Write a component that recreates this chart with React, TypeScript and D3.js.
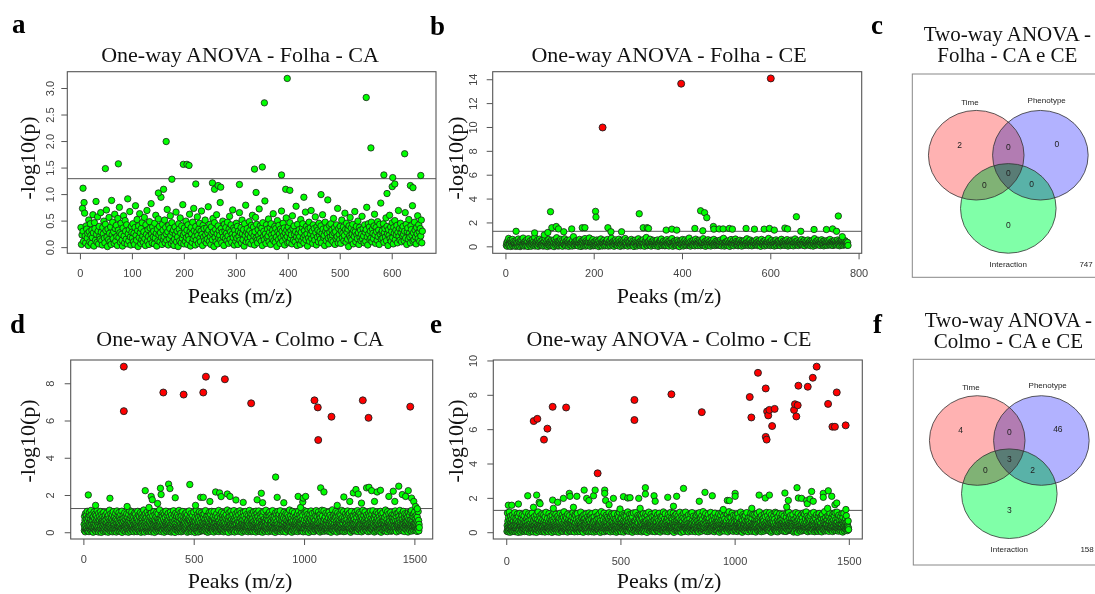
import React from 'react';
import * as d3 from 'd3';

const SERIF = '"Liberation Serif", "Times New Roman", serif';
const SANS = '"Liberation Sans", Arial, Helvetica, sans-serif';

// ---------- Panel a: One-way ANOVA - Folha - CA (values in hundredths of -log10(p), peak index = position) ----------
const folhaCABaseCenti = [
38,6,24,74,31,12,85,65,22,9,41,35,18,27,4,52,30,11,45,23,
8,33,19,62,28,3,47,36,14,87,25,10,58,31,7,40,21,16,66,29,
13,5,38,26,50,18,9,44,32,71,20,2,35,15,57,27,11,39,6,89,
24,48,17,30,8,63,36,12,42,21,4,55,33,19,76,28,10,46,25,14,
3,37,60,22,9,51,31,16,43,7,92,26,13,34,68,20,5,40,29,18,
45,11,27,6,38,79,23,14,53,32,2,41,19,64,28,8,36,15,47,22,
10,30,57,17,4,43,25,70,12,34,21,6,49,37,16,83,26,9,39,20,
31,7,46,18,61,27,3,35,13,54,24,40,11,28,95,19,6,44,33,15,
21,52,9,38,26,14,72,30,5,42,17,36,60,23,8,47,29,12,33,4,
16,39,25,67,11,31,20,2,45,35,13,56,27,9,41,18,81,24,7,37,
28,12,50,19,33,6,43,22,15,63,30,3,38,26,10,48,17,74,32,21,
5,40,14,29,58,23,8,35,46,18,11,31,69,25,4,42,20,36,13,52,
24,9,37,16,28,77,33,12,44,21,6,39,27,15,55,30,2,47,19,34,
11,62,26,7,41,18,32,23,85,14,36,9,29,50,20,4,44,31,17,38,
27,13,48,22,8,35,59,16,30,43,10,25,71,19,37,5,33,24,12,46,
18,40,6,31,21,66,14,28,38,9,52,26,15,34,3,45,23,80,11,29,
36,17,25,10,49,32,20,7,42,27,61,13,39,22,5,30,57,18,44,14,
9,34,23,73,16,41,28,12,37,4,47,21,31,15,88,26,8,43,19,35,
22,54,11,29,38,6,45,24,17,33,64,13,27,40,10,36,20,2,51,30,
15,42,26,8,35,19,69,31,12,46,23,37,5,28,17,56,33,21,9,39,
28,10,47,18,32,24,7,60,36,14,41,25,11,30,78,20,4,44,27,16,
34,21,6,53,29,13,38,45,19,9,32,23,67,15,40,26,3,35,18,48,
12,37,25,70,17,31,8,43,22,36,14,58,28,5,39,20,33,11,46,24,
30,16,41,9,27,62,35,19,23,4,48,31,13,37,26,90,18,7,42,29,
20,45,14,33,24,11,55,28,38,6,30,17,43,21,74,9,36,25,15,40,
8,31,52,19,27,39,13,23,65,34,10,46,29,16,35,2,41,22,57,18,
37,14,26,44,7,32,21,68,30,11,40,24,17,50,28,6,38,19,33,13,
25,59,16,36,22,9,43,29,12,34,76,20,5,45,26,39,15,31,18,48,
11,35,27,17,41,63,24,8,38,30,14,49,21,33,6,44,25,84,16,29,
32,18,45,10,28,36,20,56,13,40,26,4,34,23,61,17,39,12,30,47,
19,7,38,27,51,15,33,24,42,9,29,70,21,36,14,46,28,11,35,22,
40,25,13,31,66,18,44,6,30,37,16,53,27,20,9,41,34,23,79,12,
28,15,48,33,20,7,38,26,60,17,43,30,12,36,22,52,9,31
];
const folhaCAHiX = [5,48,73,150,160,165,176,198,205,209,222,254,258,265,270,306,335,338,350,354,387,395,398,403,430,463,550,559,584,590,600,601,605,624,635,640,655];
const folhaCAHiY = [1.12,1.49,1.58,1.03,1.1,2.0,1.29,1.57,1.57,1.55,1.2,1.22,1.1,1.17,1.14,1.19,1.48,1.04,1.52,2.73,1.37,1.1,3.19,1.08,0.95,1.0,2.83,1.88,1.37,1.02,1.15,1.32,1.2,1.77,1.17,1.13,1.36];
const folhaCARedX: number[] = [];
const folhaCARedY: number[] = [];
const folhaCAXTicks = [0, 100, 200, 300, 400, 500, 600];
const folhaCAYTicks = [0, 0.5, 1.0, 1.5, 2.0, 2.5, 3.0];

// ---------- Panel b: One-way ANOVA - Folha - CE ----------
const folhaCEBaseCenti = [
12,35,5,48,22,70,9,31,18,56,3,40,27,14,62,8,44,20,33,11,
25,4,52,16,38,7,29,65,13,42,21,2,36,58,10,47,24,15,73,30,
6,41,19,33,9,54,27,12,45,3,68,22,37,14,50,28,5,39,18,60,
31,11,46,24,80,7,35,17,43,26,13,57,4,39,21,64,32,10,48,20,
15,52,28,6,37,19,44,9,71,25,34,12,49,3,30,16,61,23,41,8,
36,18,55,10,27,47,14,33,2,59,22,40,11,29,76,17,45,7,38,24,
9,43,21,63,30,13,51,5,35,26,42,16,67,20,8,46,31,14,54,27,
40,4,32,19,58,24,11,37,28,6,49,22,85,15,34,10,44,29,17,53,
23,12,48,7,39,27,62,18,30,3,45,14,36,25,56,9,41,20,69,33,
6,50,16,38,22,11,44,31,74,19,5,35,27,13,47,24,60,8,39,15,
29,45,10,34,20,57,14,41,26,3,52,18,32,11,66,23,37,7,43,28,
17,55,30,8,40,24,13,48,35,61,20,6,38,27,15,51,9,33,72,21,
36,12,44,25,5,39,19,58,31,14,46,22,10,34,28,64,17,42,4,30,
20,53,11,37,26,47,8,32,18,70,24,40,13,29,55,6,43,21,35,16,
45,9,27,62,19,34,14,49,23,3,38,30,56,12,41,25,7,36,18,67,
26,40,15,31,8,52,21,44,33,11,59,17,28,5,46,37,22,78,13,35,
10,38,24,48,16,29,63,20,6,42,27,35,12,54,19,31,45,9,25,40,
33,17,57,22,4,36,28,13,50,41,18,65,26,10,38,23,47,15,30,8,
42,21,11,34,60,27,16,45,7,32,24,53,19,37,14,69,28,5,40,26,
14,48,30,18,39,9,25,56,35,12,43,21,2,33,27,50,17,38,23,61,
31,7,44,26,15,58,20,36,11,47,29,16,40,24,73,13,34,6,45,19,
25,39,13,52,28,17,41,8,33,64,22,14,48,30,10,37,26,55,19,43,
9,35,23,46,16,30,68,12,27,40,20,5,49,32,15,38,24,59,11,36,
44,18,29,7,54,25,37,14,42,21,62,28,10,35,19,47,31,13,27,50,
16,41,22,33,11,57,26,8,45,30,18,39,71,24,6,36,28,15,43,20,
37,12,50,27,19,34,4,46,23,61,14,31,40,17,52,9,29,38,21,65,
28,45,16,35,24,9,43,30,13,55,20,37,26,6,48,33,18,41,11,29,
53,22,31,14,39,67,18,27,44,10,34,21,57,15,32,25,8,46,36,19,
12,40,27,49,17,30,23,59,35,11,42,26,14,51,20,38,5,33,62,24,
31,15,45,21,36,8,53,28,18,40,25,13,47,32,70,17,29,42,10,37,
23,55,14,34,26,44,19,7,39,30,16,58,24,11,43,35,20,48,28,13,
41,9,29,63,20,33,25,46,15,38,27,12,52,22,36,18,60,31,7,44,
17,35,24,42,12,56,30,19,47,26,8,39,33,21,66,14,45,28,37,16,
50,27,11,38,23,32,45,17,29,61,20,41,13,35,24,54,9,31,43,22,
26,44,18,57,30,14,39,25,48,10,36,28,19,52,33,6,42,21,68,15,
34,13,46,23,37,20,55,31,16,43,27,11,40,29,59,18,35,24,47,8,
21,49,30,15,41,26,36,12,53,33,19,45,24,62,14,38,28,17,43,32,
11,37,25,51,18,34,42,22,29,14,57,31,20,46,27,9,40,35,16,48,
30,23,44,13,38,26,19,52,33,21,41,15,28,36,12
];
const folhaCEHiX = [23,65,87,95,101,104,114,119,131,149,173,179,203,204,231,238,262,302,311,320,323,363,376,387,428,441,446,450,455,470,471,483,492,506,513,544,563,585,597,608,632,638,658,668,698,726,740,749,753,762];
const folhaCEHiY = [1.3,1.17,1.0,1.2,2.94,1.6,1.7,1.5,1.26,1.5,1.6,1.6,2.97,2.49,1.6,1.26,1.26,2.77,1.6,1.6,1.54,1.4,1.48,1.4,1.54,3.02,1.34,2.86,2.44,1.7,1.48,1.5,1.5,1.54,1.48,1.54,1.48,1.48,1.54,1.4,1.57,1.5,2.52,1.3,1.45,1.45,1.5,1.3,2.58,0.85];
const folhaCERedX = [219, 397, 600];
const folhaCERedY = [10.0, 13.67, 14.11];
const folhaCEXTicks = [0, 200, 400, 600, 800];
const folhaCEYTicks = [0, 2, 4, 6, 8, 10, 12, 14];

// ---------- Panel d: One-way ANOVA - Colmo - CA ----------
const colmoCABaseCenti = [
45,12,88,30,67,5,103,21,56,38,94,14,72,27,115,9,61,40,83,18,
33,77,6,52,109,24,41,90,16,69,35,120,8,58,26,97,47,13,80,29,
64,3,86,39,22,112,50,17,74,31,100,11,59,43,7,92,25,68,36,118,
15,55,81,28,46,4,105,34,70,19,62,89,10,48,23,114,37,76,2,53,
99,20,42,66,13,87,32,57,8,110,44,26,79,16,63,38,95,6,51,28,
71,11,47,106,24,36,84,18,60,3,93,41,27,75,14,121,49,30,65,9,
39,102,22,58,78,12,45,31,96,5,67,20,113,35,54,17,82,43,7,88,
25,61,15,104,37,73,4,50,29,117,19,66,40,10,91,33,56,23,108,14,
48,85,8,34,69,21,98,44,13,60,27,116,2,76,38,52,18,94,30,63,
11,80,42,26,107,16,55,35,72,6,89,24,46,101,20,65,9,39,83,31,
57,3,97,28,64,14,119,43,19,77,32,53,7,90,37,22,111,48,15,70,
36,92,12,59,25,84,5,47,105,30,68,18,41,99,10,55,27,81,44,21,
6,73,34,115,17,50,62,23,95,39,8,86,29,57,13,108,42,66,3,78,
46,20,100,31,71,9,53,38,88,15,122,26,60,43,4,93,35,74,19,103,
28,58,11,82,40,24,112,16,67,33,49,7,96,21,79,45,12,61,36,118,
87,14,52,30,106,5,41,75,23,63,18,91,37,9,56,27,113,44,68,2,
33,97,20,48,64,13,85,39,26,110,8,58,31,76,17,102,46,22,70,35,
10,60,123,29,43,78,15,54,34,94,6,67,40,19,89,24,51,12,107,38,
74,25,45,3,99,32,62,18,83,47,11,116,28,56,36,9,92,21,65,42,
17,104,37,70,23,50,7,87,30,59,14,111,41,26,77,4,95,34,53,19,
63,8,81,44,27,118,12,57,38,96,22,68,2,48,29,105,15,73,35,90,
40,20,55,13,100,31,66,24,84,6,120,43,18,61,33,79,10,46,26,109,
5,71,36,93,16,52,28,114,9,64,41,23,86,47,14,58,30,101,19,76,
49,27,107,11,39,80,21,62,3,97,34,55,16,72,44,8,117,25,68,37,
88,13,58,31,24,103,45,6,76,20,50,35,92,12,65,28,41,111,17,54,
22,69,2,82,42,18,59,36,121,10,74,27,47,15,98,33,62,4,85,39,
56,30,112,19,67,7,91,40,25,53,14,106,32,78,21,45,11,95,37,60,
14,84,46,26,101,34,61,9,72,23,119,43,17,57,29,88,5,51,38,75,
31,3,94,18,48,64,12,108,36,80,27,55,8,99,22,70,42,16,115,25,
68,40,21,59,11,87,30,46,4,113,35,63,19,77,49,13,92,28,54,33,
9,102,24,71,44,16,83,38,57,26,120,6,66,32,47,14,96,41,20,79,
52,15,35,110,28,62,10,90,45,23,74,37,5,104,18,58,31,85,12,43,
27,76,50,8,97,33,19,69,41,122,14,54,29,81,2,63,36,107,22,48,
86,21,61,39,13,115,47,25,73,6,93,34,56,17,100,42,10,67,30,119,
18,55,4,80,37,65,23,101,12,49,31,88,45,20,71,8,112,27,59,36,
42,96,28,15,58,34,118,7,76,39,24,105,16,62,46,3,84,32,51,20,
70,11,109,43,26,89,18,53,35,66,9,114,29,77,22,47,14,98,38,60,
25,64,37,5,92,48,16,73,30,120,11,57,41,85,19,103,33,6,68,44,
13,99,21,57,34,78,8,46,111,27,62,40,15,94,31,52,23,81,4,116,
47,30,72,19,104,12,59,36,86,24,43,9,117,33,70,17,55,28,97,6,
39,82,14,63,45,22,107,31,50,3,91,38,66,20,113,11,48,75,26,35,
61,8,54,28,121,40,16,79,33,93,13,57,44,24,69,5,102,37,18,88,
30,112,23,71,10,49,36,96,20,62,42,15,83,27,119,7,53,34,74,14,
56,19,89,41,29,65,2,106,35,77,22,48,12,99,31,60,43,9,114,26,
84,33,12,52,100,18,73,38,25,118,6,58,45,16,87,29,67,21,40,95,
17,62,44,7,80,32,110,24,55,13,92,36,71,27,4,103,48,20,64,37,
45,22,98,15,68,41,28,85,11,58,35,122,19,76,50,9,90,31,57,14,
74,3,59,34,115,21,47,12,93,39,66,26,8,107,42,17,81,53,30,63,
10,88,27,50,18,72,37,101,6,61,24,45,116,14,78,33,56,22,96,40,
52,16,83,31,64,9,109,43,25,70,15,94,38,5,57,29,120,20,68,35,
23,105,41,7,87,48,19,60,32,113,12,76,44,27,99,16,51,36,2,82,
65,28,54,97,14,39,73,22,117,46,8,62,31,89,18,104,35,58,11,47,
38,79,6,55,30,108,17,67,42,24,91,13,119,33,50,20,85,40,15,61,
19,48,112,26,71,11,95,36,57,4,80,43,29,102,16,64,37,9,121,32,
90,14,40,63,21,53,34,118,8,75,27,47,15,86,39,23,106,30,58,12,
44,66,25,9,99,37,18,78,50,31,111,7,60,42,20,94,28,69,35,3,
57,30,84,16,46,123,22,56,13,73,38,96,26,10,67,45,19,103,32,81,
15,115,34,60,27,87,4,48,33,107,20,70,41,14,92,55,29,62,8,100,
36,51,12,93,43,25,76,17,120,39,58,9,82,31,50,22,113,6,66,27,
78,19,63,37,8,101,29,54,45,16,88,33,71,24,117,12,40,97,21,59,
26,42,104,14,67,35,22,81,3,60,47,114,18,74,30,91,11,52,38,16,
62,89,31,48,11,72,40,26,110,20,57,9,95,36,65,15,83,43,23,119,
7,55,24,97,33,61,17,108,44,28,79,13,50,39,102,21,68,5,86,34,
48,16,74,38,121,25,58,10,92,42,30,66,20,112,35,54,14,80,27,45,
95,33,12,61,29,85,46,6,70,22,105,37,53,18,89,41,9,116,31,63,
21,78,49,27,100,15,39,67,32,118,11,56,43,25,84,4,73,36,99,18,
54,10,93,36,62,19,111,45,28,76,14,52,34,103,23,65,41,8,87,30,
17,70,40,115,24,57,3,98,35,48,21,81,60,13,107,29,51,37,75,12,
66,34,22,84,44,9,122,31,59,18,94,40,27,71,6,113,46,20,56,38,
29,101,14,50,77,26,63,37,16,109,42,8,85,33,55,24,96,11,68,43,
83,20,58,32,12,96,47,23,74,39,117,15,62,28,90,45,5,104,36,52,
40,64,27,106,19,53,35,88,10,69,30,120,21,57,43,16,79,34,99,25,
11,91,45,24,72,38,14,115,29,61,49,7,86,36,102,22,55,41,18,77,
58,33,98,15,47,82,26,60,4,108,37,73,20,52,31,94,13,67,44,110,
23,69,36,119,9,57,42,28,87,17,64,32,100,46,12,81,39,25,111,50,
35,14,76,48,30,93,21,62,40,7,84,27,55,18,114,37,66,10,45,28
];
const colmoCAHiX = [20,53,118,196,278,295,305,310,334,347,350,384,390,414,480,506,529,541,571,597,615,622,650,662,689,722,785,804,810,869,876,906,971,982,992,994,1005,1073,1088,1148,1178,1205,1221,1233,1243,1258,1281,1292,1304,1317,1329,1344,1382,1402,1409,1427,1443,1458,1470,1485,1495,1503,1511];
const colmoCAHiY = [2.03,1.47,1.85,1.41,2.26,1.36,1.95,1.77,1.57,2.39,2.05,2.61,2.37,1.88,2.59,1.47,1.9,1.9,1.68,2.19,2.14,1.94,2.08,1.95,1.76,1.63,1.77,2.12,1.61,2.99,1.9,1.61,1.95,1.36,1.65,1.86,1.95,2.41,2.19,1.47,1.92,1.68,2.14,2.32,2.08,1.59,2.41,2.44,2.26,1.68,2.19,2.28,1.95,2.23,1.68,2.5,2.05,1.95,2.26,1.86,1.68,1.41,1.29];
const colmoCARedX = [181,181,360,452,541,553,639,758,1045,1060,1062,1122,1264,1290,1479];
const colmoCARedY = [8.92,6.53,7.53,7.42,7.53,8.38,8.24,6.95,7.11,6.73,4.98,6.23,7.11,6.17,6.77];
const colmoCAXTicks = [0, 500, 1000, 1500];
const colmoCAYTicks = [0, 2, 4, 6, 8];

// ---------- Panel e: One-way ANOVA - Colmo - CE ----------
const colmoCEBaseCenti = [
8,42,115,23,67,5,31,88,14,52,120,36,19,74,3,46,97,27,60,11,
35,79,16,55,102,24,7,43,68,30,13,90,48,21,117,38,6,63,28,84,
19,50,9,73,34,108,17,58,41,2,95,26,65,12,45,29,112,20,56,37,
70,4,39,86,22,61,14,105,33,48,10,78,25,53,18,99,40,7,66,31,
15,57,28,118,11,44,82,36,20,62,6,93,32,47,24,110,16,71,38,3,
49,27,100,13,59,35,77,9,43,21,114,30,54,17,87,41,5,68,26,39,
94,18,46,64,10,33,81,23,56,2,106,37,15,75,45,28,121,12,60,34,
22,69,40,8,98,29,51,19,85,42,14,63,31,109,6,48,25,76,36,11,
58,104,17,44,27,72,4,92,38,55,21,119,13,66,32,47,9,83,24,40,
30,6,61,35,111,19,50,26,80,12,43,96,28,57,16,70,41,2,101,22,
46,75,13,39,64,24,116,8,53,33,88,18,45,27,107,14,62,36,5,91,
20,54,32,97,11,42,68,25,3,84,37,59,15,113,29,48,23,78,40,10,
67,28,103,16,52,35,7,89,44,21,122,31,60,12,74,38,18,95,26,49,
13,85,41,24,62,4,108,34,57,19,46,79,27,11,100,43,30,65,8,55,
36,17,71,47,9,93,25,53,39,117,14,64,32,22,86,5,50,41,106,20,
54,99,22,35,77,13,45,28,112,6,60,38,18,82,47,26,69,10,42,31,
7,61,39,120,27,50,16,87,34,58,11,96,24,43,3,73,37,104,21,65,
40,26,83,14,56,33,109,20,68,9,47,30,92,17,63,44,5,79,35,115,
29,72,10,48,37,101,23,59,15,81,41,6,110,28,52,19,90,33,64,12,
61,4,94,31,21,68,45,13,118,36,55,26,8,75,39,98,16,49,27,84,
17,51,35,107,12,62,29,44,86,2,70,38,22,123,15,57,33,9,95,43,
48,28,76,19,40,114,6,54,31,89,24,46,14,67,37,102,11,60,25,36,
92,15,58,42,10,80,27,116,34,50,18,73,5,97,41,23,63,30,108,13,
33,66,21,99,45,7,55,37,85,16,111,28,48,12,78,35,59,20,44,3,
71,24,47,14,104,39,62,9,91,31,26,56,119,18,43,75,11,52,29,87,
6,46,82,30,57,20,113,36,15,68,42,4,100,25,60,34,94,13,49,38,
59,18,37,96,23,71,11,51,40,121,17,63,29,84,8,45,32,106,21,66,
26,88,12,54,34,105,19,74,45,3,93,38,58,14,115,27,50,22,69,41,
44,9,65,27,117,15,48,31,81,39,20,61,7,101,35,55,17,90,30,12,
79,37,22,103,50,13,68,28,41,97,5,57,33,19,84,46,11,112,25,63,
18,54,40,8,92,31,60,24,109,14,47,72,36,2,98,29,53,16,78,43,
35,120,26,62,17,45,86,10,56,38,23,107,32,66,13,50,94,21,41,7,
67,14,51,30,99,43,19,74,6,116,35,58,25,85,44,16,62,37,11,103,
24,82,39,9,68,27,48,113,20,57,34,4,93,42,70,15,31,88,53,19,
50,30,97,16,41,121,12,64,36,22,80,47,28,110,8,59,39,18,72,33,
11,63,25,88,46,6,105,29,52,17,69,40,14,95,33,21,58,118,27,45,
85,20,44,35,10,77,56,23,114,31,48,2,91,38,62,26,101,13,54,30,
39,107,15,59,28,72,18,46,34,98,9,66,42,20,83,51,12,119,24,61,
16,47,74,3,55,37,100,21,64,30,13,87,45,25,115,7,49,33,79,40,
57,26,120,34,18,69,41,11,93,28,52,15,76,36,5,104,43,22,60,32,
29,81,12,50,38,108,24,62,19,45,117,8,71,34,55,17,96,27,42,14,
64,36,48,22,90,6,57,31,80,40,16,102,25,68,11,47,33,112,20,53,
4,74,39,116,27,60,14,44,86,21,35,65,9,99,30,51,18,78,38,123,
43,17,56,32,13,95,46,26,70,10,111,37,54,19,84,28,61,7,41,89,
21,105,30,67,42,8,82,35,58,15,48,27,118,24,63,39,12,92,33,50,
71,11,45,28,100,19,53,37,6,76,40,114,16,59,31,88,22,46,14,66,
34,58,23,91,12,64,29,109,43,20,55,3,85,36,48,17,103,26,72,41,
9,47,119,18,38,75,25,51,14,97,32,62,40,10,80,44,23,58,115,28,
55,30,69,42,16,106,33,5,83,27,46,21,122,37,60,13,91,35,49,19,
26,88,13,57,39,24,114,45,18,68,31,8,101,41,54,29,77,15,63,36,
98,20,43,11,73,50,34,92,7,62,38,110,17,47,25,86,33,56,12,40,
31,61,27,120,15,56,36,21,82,44,3,70,29,105,19,52,39,14,96,48,
13,79,48,24,100,32,65,10,45,26,117,36,59,18,74,41,6,88,30,54,
67,35,16,52,29,93,20,41,113,14,60,33,8,85,46,24,107,37,55,22,
42,9,103,38,63,17,76,28,50,4,97,31,68,45,19,112,26,58,11,80,
25,70,32,14,57,121,22,48,36,89,12,64,40,28,6,100,43,17,75,34,
60,46,84,27,9,69,39,108,18,53,30,94,15,44,37,62,23,118,29,49,
19,99,23,63,41,33,12,80,55,26,116,8,47,35,72,20,58,3,104,38,
51,28,67,11,87,46,30,57,22,101,39,16,78,43,25,119,14,61,32,7,
36,113,18,48,31,74,5,94,27,59,42,20,65,12,109,37,52,24,86,44,
73,15,55,39,21,106,34,62,10,82,28,50,17,97,45,31,8,70,40,26,
29,63,7,91,47,24,115,19,53,36,71,13,44,120,22,58,33,88,16,50,
48,35,100,27,14,66,41,85,30,11,57,38,105,20,75,4,46,29,62,18,
10,78,43,60,32,117,16,52,25,93,37,66,2,49,34,110,23,79,41,14,
57,24,90,36,45,18,71,9,102,29,54,40,17,85,31,63,12,114,38,27,
39,52,15,108,26,62,33,80,21,47,121,11,59,35,96,24,43,6,74,30,
87,20,46,31,13,77,55,37,99,16,68,28,42,9,111,34,51,22,64,45,
17,69,35,118,41,23,58,6,89,30,48,14,81,39,25,104,19,60,33,12,
62,38,8,96,27,53,40,112,15,71,34,22,91,45,11,57,29,83,5,103,
31,106,25,42,66,14,79,36,20,61,47,123,28,10,86,39,55,17,69,44,
49,13,75,33,21,98,30,57,43,8,92,26,64,35,115,18,47,24,80,37,
23,60,41,89,16,50,7,107,32,72,19,45,38,99,13,61,28,117,22,54,
76,27,12,58,40,120,25,66,35,15,83,43,9,102,30,52,18,73,44,31,
14,94,37,26,71,46,19,110,28,63,4,88,39,55,24,113,33,11,67,48,
40,22,81,30,57,16,99,42,26,62,12,45,35,20,68,29,18
];
const colmoCEHiX = [7,22,51,92,117,131,142,146,201,204,223,248,274,277,292,307,339,350,360,380,387,429,429,433,448,467,496,511,530,540,578,584,607,607,645,650,705,730,744,774,843,868,900,948,966,975,1000,1000,1073,1105,1132,1150,1218,1226,1233,1271,1277,1291,1313,1316,1328,1335,1342,1386,1386,1405,1408,1423,1437,1445,1485];
const colmoCEHiY = [1.6,1.6,1.67,2.15,1.48,2.19,1.77,1.69,1.9,1.42,1.77,2.0,2.29,2.12,1.48,2.12,2.48,2.0,1.87,2.15,2.48,2.48,2.29,1.88,1.63,2.0,1.38,2.1,2.02,2.04,2.0,1.42,2.62,2.25,2.15,1.83,2.06,1.54,2.12,2.58,1.83,2.35,2.15,1.35,1.88,1.87,2.29,2.12,1.42,2.19,2.02,2.19,2.31,1.5,1.88,2.62,2.02,2.0,1.87,1.69,1.96,2.4,1.83,2.29,2.06,1.42,2.44,2.12,1.63,1.73,1.35];
const colmoCERedX = [118,134,163,178,201,260,398,559,559,721,854,1064,1071,1100,1134,1134,1138,1140,1145,1150,1162,1173,1258,1262,1268,1274,1277,1318,1340,1357,1407,1426,1437,1445,1484];
const colmoCERedY = [6.5,6.63,5.42,6.06,7.33,7.29,3.46,7.73,6.56,8.06,7.02,7.9,6.71,9.31,8.4,5.58,5.42,7.06,6.83,7.15,6.21,7.21,7.15,7.48,6.77,7.42,8.56,8.5,9.02,9.67,7.5,6.17,6.17,8.17,6.25];
const colmoCEXTicks = [0, 500, 1000, 1500];
const colmoCEYTicks = [0, 2, 4, 6, 8, 10];

const SIG_THRESHOLD = 1.3; // -log10(0.05)

// ---------- Venn panels ----------
const vennSetNames = ['Time', 'Phenotype', 'Interaction'];
// region order: Time only, Time∩Phenotype, Phenotype only, all three, Time∩Interaction, Phenotype∩Interaction, Interaction only
const vennFolhaCounts = [2, 0, 0, 0, 0, 0, 0];
const vennFolhaOutside = 747;
const vennColmoCounts = [4, 0, 46, 3, 0, 2, 3];
const vennColmoOutside = 158;

type ScatterProps = {
  base: number[]; hiX: number[]; hiY: number[]; redX: number[]; redY: number[];
  xTicks: number[]; yTicks: number[]; yFormat: string; title: string;
  x0: number; x1: number; y0: number; y1: number;
  titleX: number; titleY: number; yLabelX: number; yLabelY: number;
  yTickX: number; xTickY: number; xLabelY: number;
};

function Scatter(p: ScatterProps) {
  const n = p.base.length;
  const pad = 0.04 * (n - 1);
  const x = d3.scaleLinear().domain([1 - pad, n + pad]).range([p.x0, p.x1]);
  const baseVals = p.base.map((v) => v / 100);
  const all = baseVals.concat(p.hiY, p.redY);
  const ymin = d3.min(all) as number;
  const ymax = d3.max(all) as number;
  const yr = ymax - ymin;
  const y = d3.scaleLinear().domain([ymin - 0.04 * yr, ymax + 0.04 * yr]).range([p.y1, p.y0]);
  const fmt = d3.format(p.yFormat);
  const green = '#00ff00';
  const stroke = '#1e1e1e';
  return (
    <g>
      <text x={p.titleX} y={p.titleY} textAnchor="middle" fontFamily={SERIF} fontSize={22} fill="#111">{p.title}</text>
      <line x1={p.x0} x2={p.x1} y1={y(SIG_THRESHOLD)} y2={y(SIG_THRESHOLD)} stroke="#555" strokeWidth={1} />
      {baseVals.map((v, i) => (
        <circle key={'b' + i} cx={x(i + 1)} cy={y(v)} r={3.2} fill={green} stroke={stroke} strokeWidth={0.8} />
      ))}
      {p.hiY.map((v, i) => (
        <circle key={'h' + i} cx={x(p.hiX[i])} cy={y(v)} r={3.2} fill={green} stroke={stroke} strokeWidth={0.8} />
      ))}
      {p.redY.map((v, i) => (
        <circle key={'r' + i} cx={x(p.redX[i])} cy={y(v)} r={3.5} fill="#ff0000" stroke={stroke} strokeWidth={0.9} />
      ))}
      <rect x={p.x0} y={p.y0} width={p.x1 - p.x0} height={p.y1 - p.y0} fill="none" stroke="#555" strokeWidth={1.1} />
      {p.xTicks.map((t) => (
        <g key={'xt' + t}>
          <line x1={x(t)} x2={x(t)} y1={p.y1} y2={p.y1 + 6} stroke="#555" />
          <text x={x(t)} y={p.xTickY} textAnchor="middle" fontFamily={SANS} fontSize={11} fill="#444">{t}</text>
        </g>
      ))}
      {p.yTicks.map((t) => (
        <g key={'yt' + t}>
          <line x1={p.x0 - 6} x2={p.x0} y1={y(t)} y2={y(t)} stroke="#555" />
          <text transform={`translate(${p.yTickX},${y(t)}) rotate(-90)`} textAnchor="middle" dy="0.35em" fontFamily={SANS} fontSize={11} fill="#444">{fmt(t)}</text>
        </g>
      ))}
      <text x={p.titleX} y={p.xLabelY} textAnchor="middle" fontFamily={SERIF} fontSize={22} fill="#111">Peaks (m/z)</text>
      <text transform={`translate(${p.yLabelX},${p.yLabelY}) rotate(-90)`} textAnchor="middle" dy="0.35em" fontFamily={SERIF} fontSize={22} fill="#111">-log10(p)</text>
    </g>
  );
}

type VennProps = { x0: number; y0: number; h: number; line1: string; line2: string; t1: number; t2: number; counts: number[]; outside: number };

function Venn(p: VennProps) {
  // local layout (px within the venn box)
  const sx = d3.scaleLinear().domain([0, 1]).range([p.x0, p.x0 + 192]);
  const sy = d3.scaleLinear().domain([0, 1]).range([p.y0, p.y0 + 192]);
  const circles = [
    { cx: 0.333, cy: 0.423, fill: '#ffb2b2' },
    { cx: 0.667, cy: 0.423, fill: '#b2b2ff' },
    { cx: 0.5, cy: 0.70, fill: '#80ffa8' },
  ];
  const rx = 47.8, ry = 44.8;
  const setLabelPos = [[0.300, 0.145], [0.700, 0.137], [0.500, 0.990]];
  const regionPos = [[0.247, 0.370], [0.500, 0.379], [0.753, 0.365], [0.500, 0.518], [0.375, 0.577], [0.622, 0.575], [0.500, 0.787]];
  const cxMid = p.x0 + 95;
  return (
    <g>
      <text x={cxMid} y={p.t1} textAnchor="middle" fontFamily={SERIF} fontSize={21} fill="#111">{p.line1}</text>
      <text x={cxMid} y={p.t2} textAnchor="middle" fontFamily={SERIF} fontSize={21} fill="#111">{p.line2}</text>
      <rect x={p.x0} y={p.y0} width={220} height={p.h} fill="#fff" stroke="#888" strokeWidth={1} />
      {circles.map((c, i) => (
        <ellipse key={'f' + i} cx={sx(c.cx)} cy={sy(c.cy)} rx={rx} ry={ry} fill={c.fill} style={{ mixBlendMode: 'multiply' }} />
      ))}
      {circles.map((c, i) => (
        <ellipse key={'s' + i} cx={sx(c.cx)} cy={sy(c.cy)} rx={rx} ry={ry} fill="none" stroke="#333" strokeWidth={0.8} />
      ))}
      {vennSetNames.map((s, i) => (
        <text key={s} x={sx(setLabelPos[i][0])} y={sy(setLabelPos[i][1])} dy="0.35em" textAnchor="middle" fontFamily={SANS} fontSize={8} fill="#222">{s}</text>
      ))}
      {p.counts.map((c, i) => (
        <text key={'c' + i} x={sx(regionPos[i][0])} y={sy(regionPos[i][1])} dy="0.35em" textAnchor="middle" fontFamily={SANS} fontSize={8.5} fill="#222">{c}</text>
      ))}
      <text x={sx(0.94)} y={sy(0.99)} dy="0.35em" textAnchor="end" fontFamily={SANS} fontSize={8} fill="#222">{p.outside}</text>
    </g>
  );
}

export default function App() {
  const letter = (s: string, x: number, y: number) => (
    <text x={x} y={y} fontFamily={SERIF} fontWeight="bold" fontSize={27} fill="#000">{s}</text>
  );
  return (
    <svg width={1095} height={594} style={{ position: 'absolute', left: 0, top: 0, background: '#fff' }}>
      <rect width={1095} height={594} fill="#fff" />
      <Scatter base={folhaCABaseCenti} hiX={folhaCAHiX} hiY={folhaCAHiY} redX={folhaCARedX} redY={folhaCARedY}
        xTicks={folhaCAXTicks} yTicks={folhaCAYTicks} yFormat=".1f" title="One-way ANOVA - Folha - CA"
        x0={67.3} x1={436} y0={71.7} y1={253.3} titleX={240} titleY={62} yLabelX={27} yLabelY={158}
        yTickX={50} xTickY={277} xLabelY={303} />
      <Scatter base={folhaCEBaseCenti} hiX={folhaCEHiX} hiY={folhaCEHiY} redX={folhaCERedX} redY={folhaCERedY}
        xTicks={folhaCEXTicks} yTicks={folhaCEYTicks} yFormat="d" title="One-way ANOVA - Folha - CE"
        x0={492.7} x1={861.7} y0={71.7} y1={253.3} titleX={669} titleY={62} yLabelX={455} yLabelY={158}
        yTickX={473} xTickY={277} xLabelY={303} />
      <Scatter base={colmoCABaseCenti} hiX={colmoCAHiX} hiY={colmoCAHiY} redX={colmoCARedX} redY={colmoCARedY}
        xTicks={colmoCAXTicks} yTicks={colmoCAYTicks} yFormat="d" title="One-way ANOVA - Colmo - CA"
        x0={70.7} x1={432.7} y0={360} y1={539} titleX={240} titleY={346} yLabelX={27} yLabelY={441}
        yTickX={50} xTickY={563} xLabelY={588} />
      <Scatter base={colmoCEBaseCenti} hiX={colmoCEHiX} hiY={colmoCEHiY} redX={colmoCERedX} redY={colmoCERedY}
        xTicks={colmoCEXTicks} yTicks={colmoCEYTicks} yFormat="d" title="One-way ANOVA - Colmo - CE"
        x0={493.3} x1={862.3} y0={360} y1={539} titleX={669} titleY={346} yLabelX={455} yLabelY={441}
        yTickX={473} xTickY={565} xLabelY={588} />
      <Venn x0={912.3} y0={74} h={203.3} line1="Two-way ANOVA -" line2="Folha - CA e CE" t1={40.5} t2={62}
        counts={vennFolhaCounts} outside={vennFolhaOutside} />
      <Venn x0={913.3} y0={359.3} h={205.7} line1="Two-way ANOVA -" line2="Colmo - CA e CE" t1={326.5} t2={347.5}
        counts={vennColmoCounts} outside={vennColmoOutside} />
      {letter('a', 12, 33)}
      {letter('b', 430, 35)}
      {letter('c', 871, 34)}
      {letter('d', 10, 333)}
      {letter('e', 430, 333)}
      {letter('f', 873, 333)}
    </svg>
  );
}
